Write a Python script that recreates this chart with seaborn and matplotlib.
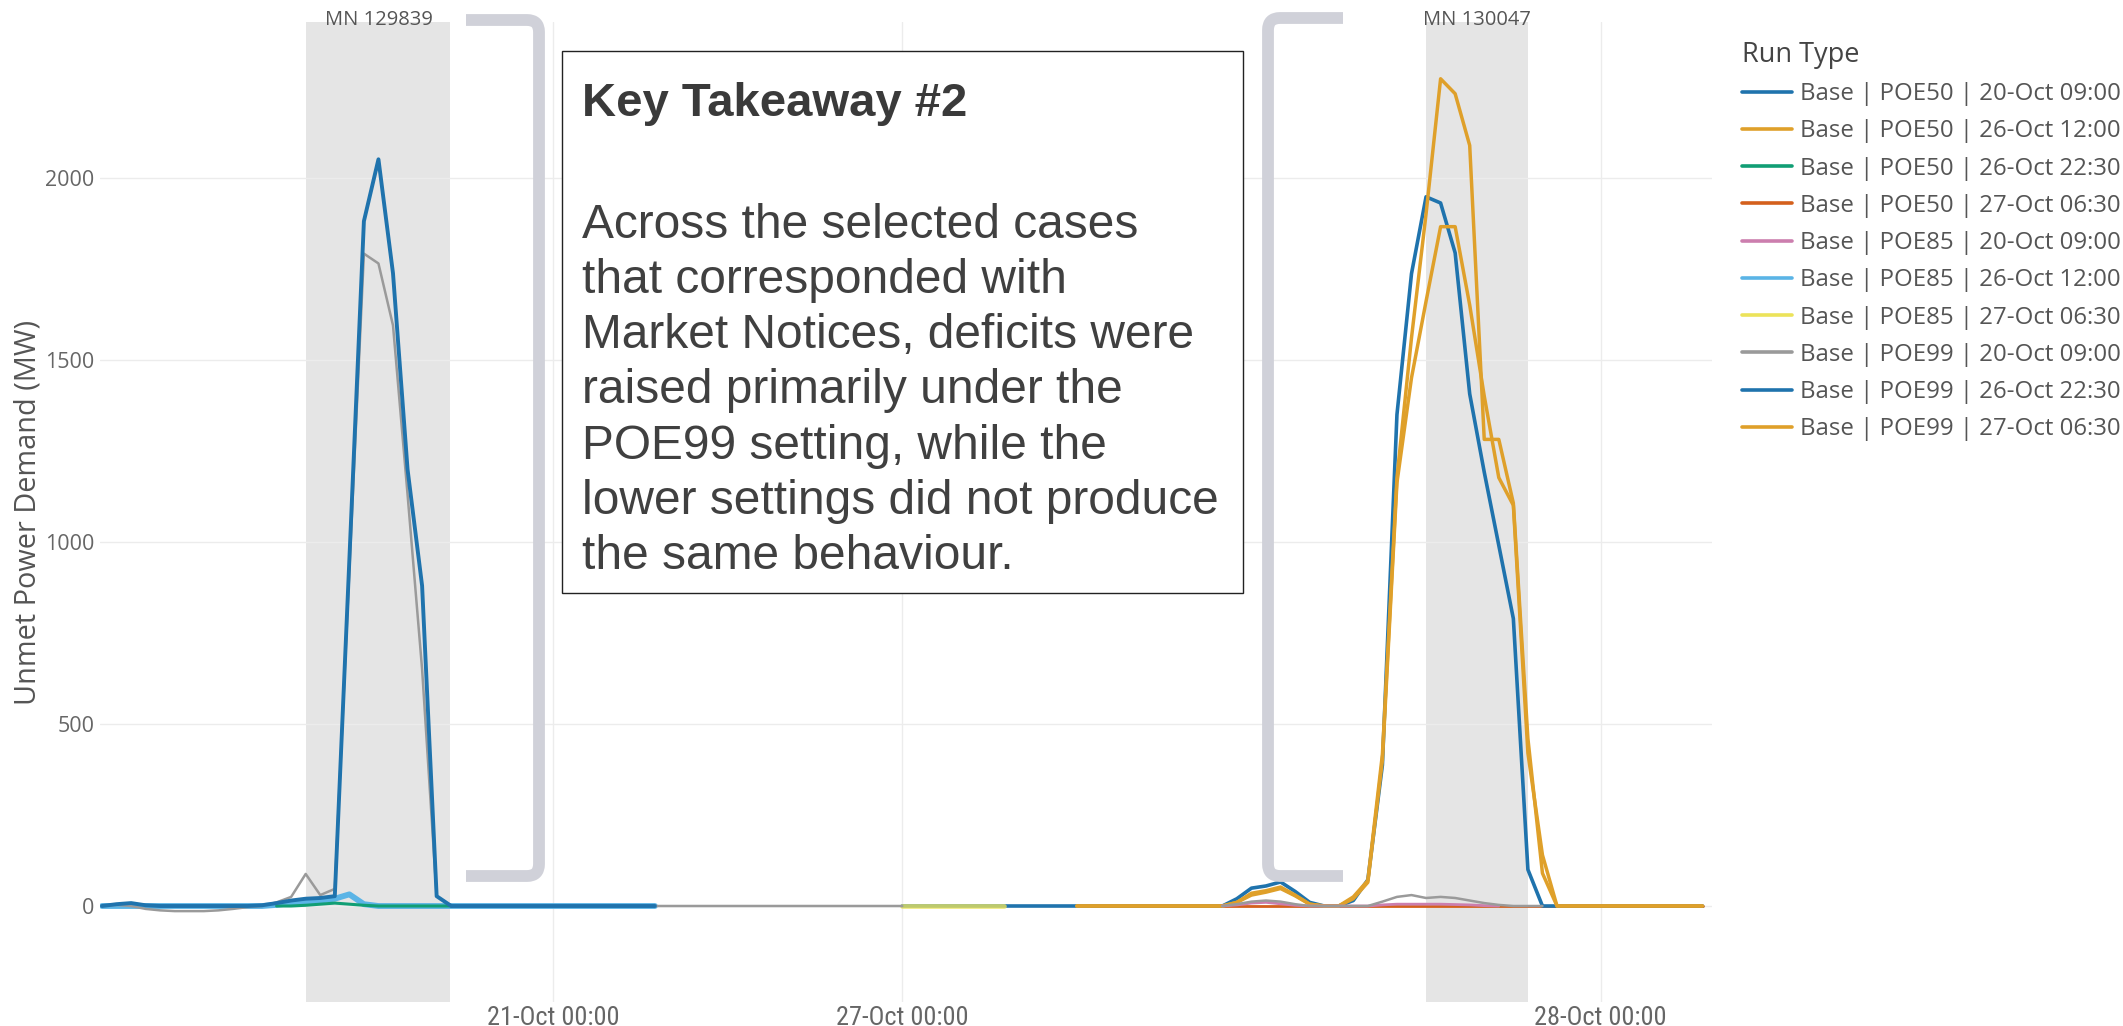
import numpy as np
import pandas as pd
import matplotlib
matplotlib.use("Agg")
import matplotlib.pyplot as plt
import matplotlib.transforms as mtransforms
import seaborn as sns
from matplotlib import font_manager
from matplotlib.lines import Line2D
from matplotlib.patches import Rectangle, PathPatch
from matplotlib.path import Path

# ---------------------------------------------------------------- data
run_labels = [
    "Base | POE50 | 20-Oct 09:00",
    "Base | POE50 | 26-Oct 12:00",
    "Base | POE50 | 26-Oct 22:30",
    "Base | POE50 | 27-Oct 06:30",
    "Base | POE85 | 20-Oct 09:00",
    "Base | POE85 | 26-Oct 12:00",
    "Base | POE85 | 27-Oct 06:30",
    "Base | POE99 | 20-Oct 09:00",
    "Base | POE99 | 26-Oct 22:30",
    "Base | POE99 | 27-Oct 06:30",
]
run_colors = ["#1f73ad", "#dfa02a", "#119e74", "#d4601c", "#cc7eae",
              "#5ab4e6", "#ece35a", "#9a9a9a", "#1f73ad", "#dfa02a"]

# x axis: half-hour interval index on a gap-compressed time axis
tick_slots = [31, 55, 103]
tick_labels = ["21-Oct 00:00", "27-Oct 00:00", "28-Oct 00:00"]

# market notice windows (interval index)
notice_names = ["MN 129839", "MN 130047"]
notice_start = [14.05, 91.0]
notice_end = [23.95, 98.0]

# unmet demand (MW) per run; each series starts at the given interval
poe50_20oct_start = 0
poe50_20oct = [0, 5, 8, 2, 0, 0, 0, 0, 0, 0, 0, 2, 8, 15, 20, 22, 27, 950,
               1880, 2050, 1737, 1199, 879, 27] + [0] * 15

poe50_26oct12_start = 67
poe50_26oct12 = [0] * 11 + [10, 30, 38, 48, 28, 5, 0, 0, 20, 65, 400, 1162,
                            1450, 1660, 1865, 1865, 1650, 1400, 1176, 1100,
                            420, 140] + [0] * 11

poe50_26oct22_start = 12
poe50_26oct22 = [0, 0, 2, 5, 8, 5, 2, 0, 0, 0, 0, 0, 0]

poe50_27oct_start = 68
poe50_27oct = [0] * 43

poe85_20oct_start = 77
poe85_20oct = [0, 3, 8, 10, 6, 2, 0, 0, 0, 0, 0, 3, 5, 5, 5, 5, 4, 3, 1, 0]

poe85_26oct_start = 0
poe85_26oct = [0] * 12 + [3, 8, 12, 15, 20, 32, 5] + [0] * 20

poe85_27oct_start = 55
poe85_27oct = [0] * 8

poe99_20oct_a_start = 0
poe99_20oct_a = [0, 3, 0, -8, -12, -14, -14, -14, -12, -8, -3, 0, 10, 25, 88,
                 30, 47, 920, 1791, 1764, 1594, 1130, 650, 27] + [0] * 32
poe99_20oct_b_start = 77
poe99_20oct_b = [0, 5, 12, 15, 12, 5, 0, 0, 0, 0, 0, 12, 25, 30, 22, 25, 22,
                 15, 8, 3, 0, 0, 0]

poe99_26oct_start = 55
poe99_26oct = [0] * 23 + [20, 49, 55, 66, 40, 10, 0, 0, 15, 72, 387, 1349,
                          1736, 1947, 1930, 1793, 1406, 1191, 990, 789, 100,
                          0] + [0] * 11

poe99_27oct_start = 67
poe99_27oct = [0] * 11 + [10, 35, 42, 52, 30, 5, 0, 0, 25, 70, 416, 1176,
                          1560, 1900, 2271, 2230, 2088, 1281, 1281, 1106,
                          460, 90] + [0] * 11

pieces = [
    (run_labels[0], poe50_20oct_start, poe50_20oct),
    (run_labels[1], poe50_26oct12_start, poe50_26oct12),
    (run_labels[2], poe50_26oct22_start, poe50_26oct22),
    (run_labels[3], poe50_27oct_start, poe50_27oct),
    (run_labels[4], poe85_20oct_start, poe85_20oct),
    (run_labels[5], poe85_26oct_start, poe85_26oct),
    (run_labels[6], poe85_27oct_start, poe85_27oct),
    (run_labels[7], poe99_20oct_a_start, poe99_20oct_a),
    (run_labels[7], poe99_20oct_b_start, poe99_20oct_b),
    (run_labels[8], poe99_26oct_start, poe99_26oct),
    (run_labels[9], poe99_27oct_start, poe99_27oct),
]

rows = []
for seg, (run, start, vals) in enumerate(pieces):
    for k, v in enumerate(vals):
        rows.append((run, seg, start + k, v))
df = pd.DataFrame(rows, columns=["run", "segment", "slot", "mw"])

takeaway_title = "Key Takeaway #2"
takeaway_lines = [
    "Across the selected cases",
    "that corresponded with",
    "Market Notices, deficits were",
    "raised primarily under the",
    "POE99 setting, while the",
    "lower settings did not produce",
    "the same behaviour.",
]


# ---------------------------------------------------------------- fonts
def pick(*names):
    for n in names:
        try:
            font_manager.findfont(font_manager.FontProperties(family=n),
                                  fallback_to_default=False)
            return n
        except Exception:
            pass
    return "DejaVu Sans"


sns.set_theme(style="white")
ui_font = pick("Open Sans", "Noto Sans", "DejaVu Sans")
narrow_font = pick("Liberation Sans Narrow", "Roboto Condensed", ui_font)
box_font = pick("Liberation Sans", "Arimo", "DejaVu Sans")
plt.rcParams["font.family"] = [ui_font, "DejaVu Sans"]

# ---------------------------------------------------------------- figure
W, H = 2123, 1026
fig = plt.figure(figsize=(W / 100, H / 100), dpi=100)
fig.patch.set_facecolor("white")

ax_left, ax_right, ax_top, ax_bottom = 100, 1712, 22, 1002
ax = fig.add_axes([ax_left / W, 1 - ax_bottom / H,
                   (ax_right - ax_left) / W, (ax_bottom - ax_top) / H])

x0_px, step_px = 102, 14.55
ax.set_xlim((ax_left - x0_px) / step_px, (ax_right - x0_px) / step_px)
zero_px, px_per_mw = 906, 0.36425
ax.set_ylim((zero_px - ax_bottom) / px_per_mw, (zero_px - ax_top) / px_per_mw)

for s0, s1 in zip(notice_start, notice_end):
    ax.axvspan(s0, s1, color="#e5e5e5", lw=0, zorder=0.2)

ax.set_yticks([0, 500, 1000, 1500, 2000])
ax.set_xticks(tick_slots)
ax.set_xticklabels(tick_labels, fontfamily=narrow_font, fontsize=19,
                   color="#666666")
ax.tick_params(axis="y", labelsize=15.5, labelcolor="#666666", length=0, pad=4)
ax.tick_params(axis="x", length=0, pad=3)
ax.grid(True, color="#ececec", lw=1.0)
ax.set_axisbelow(True)
for sp in ax.spines.values():
    sp.set_visible(False)
ax.set_facecolor("none")

draw_order = [5, 2, 3, 8, 6, 1, 9, 4, 7, 0]
widths = {5: 4.2, 2: 2.2, 3: 2.0, 6: 3.4, 8: 2.6, 1: 2.5, 9: 2.5, 4: 2.0,
          7: 1.8, 0: 2.8}
alphas = {6: 0.78}
for i in draw_order:
    sub = df[df["run"] == run_labels[i]]
    sns.lineplot(data=sub, x="slot", y="mw", units="segment", estimator=None,
                 color=run_colors[i], linewidth=widths[i], ax=ax,
                 alpha=alphas.get(i, 1.0), legend=False, zorder=2)

ax.set_xlabel("")
ax.set_ylabel("Unmet Power Demand (MW)", fontsize=20.8, color="#555555",
              labelpad=2)

trans = mtransforms.blended_transform_factory(ax.transData, ax.transAxes)
for name, s0, s1 in zip(notice_names, notice_start, notice_end):
    ax.annotate(name, xy=((s0 + s1) / 2, 1.0), xycoords=trans,
                xytext=(0, 1.5), textcoords="offset points", ha="center",
                va="center", fontsize=14.5, color="#555555")

# ---------------------------------------------------------------- legend
handles = [Line2D([0], [0], color=c, lw=2.6) for c in run_colors]
leg = fig.legend(handles, run_labels, loc="upper left",
                 bbox_to_anchor=(1742 / W, 1 - 41 / H), frameon=False,
                 title="Run Type", fontsize=17.3, title_fontsize=19.5,
                 handlelength=2.1, handletextpad=0.3, labelspacing=0.55,
                 borderpad=0, borderaxespad=0, alignment="left")
for t in leg.get_texts():
    t.set_color("#555555")
leg.get_title().set_color("#444444")


# ---------------------------------------------------------------- annotations
def fx(x):
    return x / W


def fy(y):
    return 1 - y / H


box = Rectangle((fx(562), fy(593)), fx(1243) - fx(562), fy(51) - fy(593),
                transform=fig.transFigure, facecolor="white",
                edgecolor="#222222", lw=1.0, zorder=5)
fig.add_artist(box)
fig.text(fx(582), fy(104), takeaway_title, fontfamily=box_font,
         fontweight="bold", fontsize=34, color="#3a3a3a", va="center",
         ha="left", zorder=6)
for k, line in enumerate(takeaway_lines):
    fig.text(fx(582), fy(225 + 55.3 * k), line, fontfamily=box_font,
             fontsize=34.5, color="#404040", va="center", ha="left", zorder=6)


def bracket(xo, xi, top, bottom, r=12):
    d = 1 if xi > xo else -1
    verts = [(xo, top), (xi - d * r, top), (xi, top), (xi, top + r),
             (xi, bottom - r), (xi, bottom), (xi - d * r, bottom),
             (xo, bottom)]
    codes = [Path.MOVETO, Path.LINETO, Path.CURVE3, Path.CURVE3,
             Path.LINETO, Path.CURVE3, Path.CURVE3, Path.LINETO]
    verts = [(fx(x), fy(y)) for x, y in verts]
    return PathPatch(Path(verts, codes), transform=fig.transFigure,
                     facecolor="none", edgecolor="#d0d1d9", lw=8.5,
                     capstyle="butt", joinstyle="round", zorder=5)


fig.add_artist(bracket(466, 539, 20, 876))
fig.add_artist(bracket(1343, 1268, 18, 876))

fig.savefig("out.png", dpi=100, facecolor="white")
